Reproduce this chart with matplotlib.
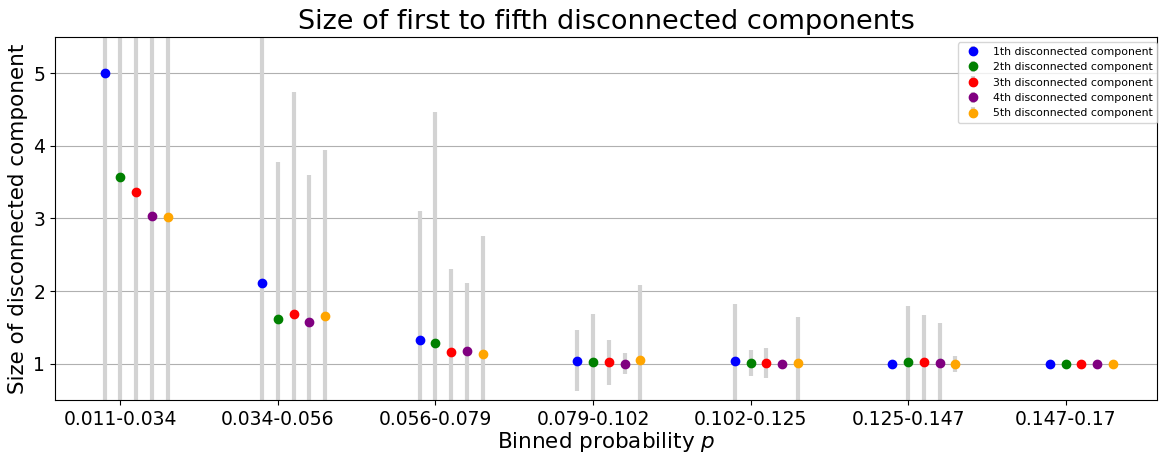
import numpy as np
import matplotlib.pyplot as plt

bins = ["0.011-0.034", "0.034-0.056", "0.056-0.079", "0.079-0.102",
        "0.102-0.125", "0.125-0.147", "0.147-0.17"]
colors = ["blue", "green", "red", "purple", "orange"]

# mean size of the k-th disconnected component per bin
means = [
    [5.00, 2.11, 1.32, 1.04, 1.04, 0.995, 1.0],
    [3.575, 1.62, 1.29, 1.03, 1.005, 1.027, 1.0],
    [3.36, 1.68, 1.16, 1.018, 1.009, 1.018, 1.0],
    [3.04, 1.58, 1.17, 1.0, 0.995, 1.014, 1.0],
    [3.025, 1.655, 1.133, 1.055, 1.009, 0.995, 1.0],
]
# standard deviations
stds = [
    [6.1, 3.6, 1.78, 0.42, 0.78, 0.0, 0.0],
    [3.9, 2.16, 3.175, 0.65, 0.178, 0.77, 0.0],
    [3.6, 3.06, 1.14, 0.31, 0.206, 0.656, 0.0],
    [3.1, 2.02, 0.945, 0.147, 0.0, 0.546, 0.0],
    [3.0, 2.29, 1.62, 1.026, 0.633, 0.115, 0.0],
]

fig, ax = plt.subplots(figsize=(11.59, 4.53), dpi=100)
fig.subplots_adjust(left=55/1159, right=1157/1159, top=1-37/453, bottom=1-400/453)

idx = np.arange(len(bins))
for k in range(5):
    ax.errorbar(idx + (k - 1)*0.1, means[k], yerr=stds[k], fmt="o", color=colors[k],
                ecolor="lightgray", elinewidth=3, capsize=0, markersize=6,
                label=f"{k+1}th disconnected component")

ax.set_xlim(-0.415, 6.58)
ax.set_ylim(0.5, 5.5)
ax.set_xticks(idx)
ax.set_xticklabels(bins)
ax.tick_params(labelsize=13.5)
ax.grid(axis="y")
ax.set_xlabel("Binned probability $p$", fontsize=15.5, labelpad=1)
ax.set_ylabel("Size of disconnected component", fontsize=15.5)
ax.set_title("Size of first to fifth disconnected components", fontsize=19.5)
ax.legend(loc="upper right", fontsize=7.8, borderaxespad=0,
          bbox_to_anchor=(1.0, 0.985))

plt.savefig("out.png")
